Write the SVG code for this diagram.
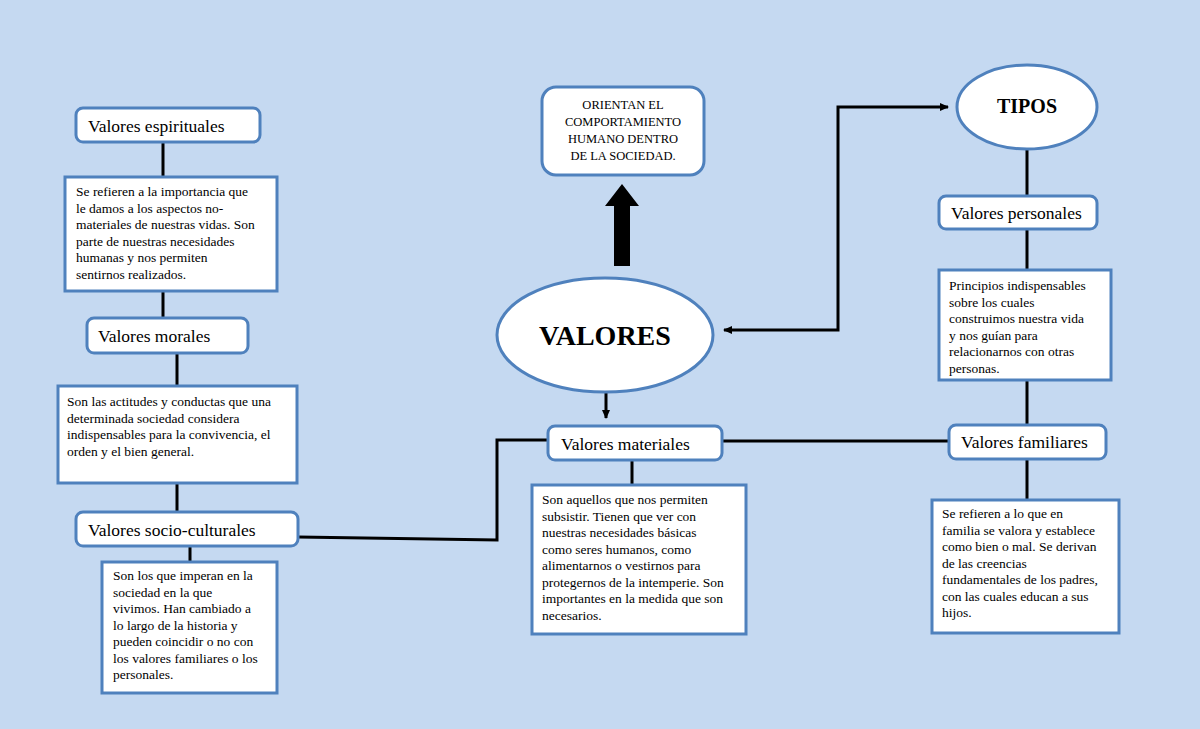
<svg xmlns="http://www.w3.org/2000/svg" width="1200" height="729" viewBox="0 0 1200 729">
<defs>
<style>
.b{fill:#fff;stroke:#4f81bd;stroke-width:3}
.l{fill:none;stroke:#000;stroke-width:3}
.t{font-family:"Liberation Serif",serif;font-size:17.5px;fill:#000}
.d{font-family:"Liberation Serif",serif;font-size:13.5px;fill:#000}
</style>
<marker id="a" markerWidth="10" markerHeight="10" refX="8" refY="5" orient="auto-start-reverse" markerUnits="userSpaceOnUse"><path d="M0,1 L9,5 L0,9 Z" fill="#000"/></marker>
</defs>
<rect width="1200" height="729" fill="#c5d9f1"/>
<g id="connectors">
<path class="l" d="M163,142V177M163,291V318M177,353V386M177,483V512M190,546V562"/>
<path class="l" d="M298,537L497,540V440H548M722,441H949M632,460V485"/>
<path class="l" d="M1027,150V196M1027,229V270M1027,380V425M1027,459V500"/>
<path class="l" d="M606,391V418" marker-end="url(#a)" stroke-width="2.5"/>
<path class="l" d="M724,330H838V107H948" marker-start="url(#a)" marker-end="url(#a)" stroke-width="2.5"/>
<path d="M614,266V206H605L622,184L639,206H630V266Z" fill="#000"/>
</g>
<g id="espirituales"><rect class="b" x="76" y="108" width="184" height="34" rx="7"/><text class="t" x="88" y="132">Valores espirituales</text></g>
<g id="desc-espirituales"><rect class="b" x="65" y="177" width="212" height="114"/>
<text class="d" x="76" y="196">Se refieren a la importancia que</text>
<text class="d" x="76" y="212.5">le damos a los aspectos no-</text>
<text class="d" x="76" y="229">materiales de nuestras vidas. Son</text>
<text class="d" x="76" y="245.5">parte de nuestras necesidades</text>
<text class="d" x="76" y="262">humanas y nos permiten</text>
<text class="d" x="76" y="278.5">sentirnos realizados.</text></g>
<g id="morales"><rect class="b" x="87" y="318" width="161" height="35" rx="7"/><text class="t" x="98" y="342">Valores morales</text></g>
<g id="desc-morales"><rect class="b" x="58" y="386" width="239" height="97"/>
<text class="d" x="67" y="406">Son las actitudes y conductas que una</text>
<text class="d" x="67" y="422.5">determinada sociedad considera</text>
<text class="d" x="67" y="439">indispensables para la convivencia, el</text>
<text class="d" x="67" y="455.5">orden y el bien general.</text></g>
<g id="socio"><rect class="b" x="76" y="512" width="222" height="34" rx="7"/><text class="t" x="88" y="536">Valores socio-culturales</text></g>
<g id="desc-socio"><rect class="b" x="102" y="562" width="175" height="131"/>
<text class="d" x="113" y="580">Son los que imperan en la</text>
<text class="d" x="113" y="596.5">sociedad en la que</text>
<text class="d" x="113" y="613">vivimos. Han cambiado a</text>
<text class="d" x="113" y="629.5">lo largo de la historia y</text>
<text class="d" x="113" y="646">pueden coincidir o no con</text>
<text class="d" x="113" y="662.5">los valores familiares o los</text>
<text class="d" x="113" y="679">personales.</text></g>
<g id="orientan"><rect class="b" x="542" y="87" width="162" height="88" rx="14"/>
<g class="d" font-size="12.5" text-anchor="middle" style="font-size:12.5px">
<text x="623" y="109">ORIENTAN EL</text><text x="623" y="126">COMPORTAMIENTO</text><text x="623" y="143">HUMANO DENTRO</text><text x="623" y="160">DE LA SOCIEDAD.</text></g></g>
<g id="valores"><ellipse class="b" cx="605" cy="335" rx="108" ry="57"/><text x="605" y="345" text-anchor="middle" style="font-family:'Liberation Serif',serif;font-weight:bold;font-size:28px">VALORES</text></g>
<g id="materiales"><rect class="b" x="548" y="426" width="174" height="34" rx="7"/><text class="t" x="561" y="450">Valores materiales</text></g>
<g id="desc-materiales"><rect class="b" x="532" y="485" width="214" height="149"/>
<text class="d" x="542" y="504">Son aquellos que nos permiten</text>
<text class="d" x="542" y="520.5">subsistir. Tienen que ver con</text>
<text class="d" x="542" y="537">nuestras necesidades básicas</text>
<text class="d" x="542" y="553.5">como seres humanos, como</text>
<text class="d" x="542" y="570">alimentarnos o vestirnos para</text>
<text class="d" x="542" y="586.5">protegernos de la intemperie. Son</text>
<text class="d" x="542" y="603">importantes en la medida que son</text>
<text class="d" x="542" y="619.5">necesarios.</text></g>
<g id="tipos"><ellipse class="b" cx="1027" cy="107" rx="70" ry="42"/><text x="1027" y="113" text-anchor="middle" style="font-family:'Liberation Serif',serif;font-weight:bold;font-size:20px">TIPOS</text></g>
<g id="personales"><rect class="b" x="939" y="196" width="158" height="33" rx="7"/><text class="t" x="951" y="219">Valores personales</text></g>
<g id="desc-personales"><rect class="b" x="939" y="270" width="172" height="110"/>
<text class="d" x="949" y="290">Principios indispensables</text>
<text class="d" x="949" y="306.5">sobre los cuales</text>
<text class="d" x="949" y="323">construimos nuestra vida</text>
<text class="d" x="949" y="339.5">y nos guían para</text>
<text class="d" x="949" y="356">relacionarnos con otras</text>
<text class="d" x="949" y="372.5">personas.</text></g>
<g id="familiares"><rect class="b" x="949" y="425" width="157" height="34" rx="7"/><text class="t" x="961" y="448">Valores familiares</text></g>
<g id="desc-familiares"><rect class="b" x="932" y="500" width="187" height="133"/>
<text class="d" x="942" y="518">Se refieren a lo que en</text>
<text class="d" x="942" y="534.5">familia se valora y establece</text>
<text class="d" x="942" y="551">como bien o mal. Se derivan</text>
<text class="d" x="942" y="567.5">de las creencias</text>
<text class="d" x="942" y="584">fundamentales de los padres,</text>
<text class="d" x="942" y="600.5">con las cuales educan a sus</text>
<text class="d" x="942" y="617">hijos.</text></g>
</svg>
